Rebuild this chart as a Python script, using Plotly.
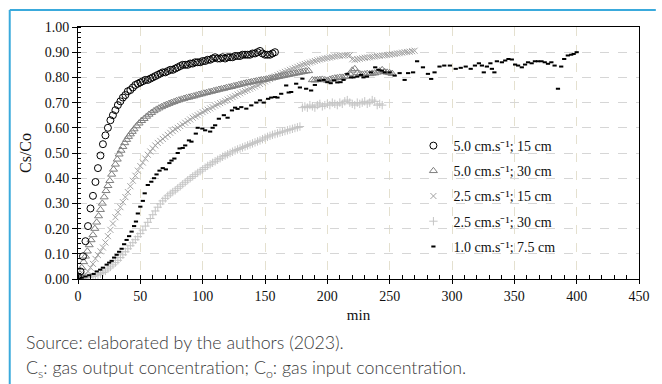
import plotly.graph_objects as go

# ---------------- data ----------------
t_c515 = [0, 2, 4, 6, 8, 10, 12, 14, 16, 18, 20, 22, 24, 26, 28, 30, 32, 34, 36, 38,
          40, 42, 44, 46, 48, 50, 52, 54, 56, 58, 60, 62, 64, 66, 68, 70, 72, 74, 76, 78,
          80, 82, 84, 86, 88, 90, 92, 94, 96, 98, 100, 102, 104, 106, 108, 110, 112, 114, 116, 118,
          120, 122, 124, 126, 128, 130, 132, 134, 136, 138, 140, 142, 144, 146, 148, 150, 152, 154, 156, 158]
v_c515 = [0.01, 0.03, 0.09, 0.15, 0.21, 0.28, 0.33, 0.385, 0.44, 0.49, 0.535, 0.57, 0.60, 0.63, 0.65, 0.67, 0.69, 0.705, 0.72, 0.73,
          0.745, 0.75, 0.76, 0.77, 0.775, 0.78, 0.785, 0.79, 0.79, 0.795, 0.80, 0.805, 0.81, 0.815, 0.82, 0.82, 0.825, 0.83, 0.83, 0.835,
          0.84, 0.845, 0.85, 0.85, 0.85, 0.855, 0.855, 0.86, 0.86, 0.86, 0.865, 0.865, 0.87, 0.87, 0.875, 0.88, 0.875, 0.875, 0.88, 0.875,
          0.88, 0.88, 0.88, 0.885, 0.885, 0.885, 0.89, 0.89, 0.89, 0.89, 0.895, 0.895, 0.90, 0.905, 0.895, 0.89, 0.89, 0.89, 0.895, 0.90]

t_c530 = [0, 1.5, 3, 4.5, 6, 7.5, 9, 10.5, 12, 13.5, 15, 16.5, 18, 19.5, 21, 22.5, 24, 25.5, 27, 28.5,
          30, 31.5, 33, 34.5, 36, 37.5, 39, 40.5, 42, 43.5, 45,
          47, 49, 51, 53, 55, 57, 59, 61, 63, 65, 67, 69, 71, 73, 75, 77, 79, 81, 83,
          85, 87, 89, 91, 93, 95, 97, 99, 101, 103, 105, 107, 109, 111, 113, 115, 117, 119, 121, 123,
          125, 127, 129, 131, 133, 135, 137, 139, 141, 143, 145, 147, 149, 151, 153, 155, 157, 159, 161, 163,
          165, 167, 169, 171, 173, 175, 177, 179, 181, 183, 185,
          188, 190, 192, 194, 196, 198, 200, 202, 204, 206, 208, 210, 212, 214, 216, 218, 220, 222, 224, 226,
          228, 230, 232, 234, 236, 238, 240, 242, 244, 246, 248, 250, 252]
v_c530 = [0.005, 0.02, 0.045, 0.068, 0.09, 0.11, 0.135, 0.155, 0.175, 0.20, 0.225, 0.25, 0.275, 0.30, 0.325, 0.35, 0.37, 0.39, 0.415, 0.435,
          0.455, 0.475, 0.495, 0.51, 0.525, 0.54, 0.553, 0.565, 0.575, 0.585, 0.595,
          0.607, 0.618, 0.628, 0.636, 0.645, 0.653, 0.66, 0.667, 0.673, 0.678, 0.683, 0.688, 0.692, 0.696, 0.70, 0.703, 0.707, 0.71, 0.713,
          0.716, 0.719, 0.721, 0.724, 0.726, 0.729, 0.732, 0.734, 0.737, 0.739, 0.742, 0.744, 0.747, 0.749, 0.752, 0.754, 0.756, 0.759, 0.761, 0.763,
          0.766, 0.768, 0.771, 0.773, 0.776, 0.778, 0.78, 0.782, 0.784, 0.786, 0.788, 0.79, 0.791, 0.793, 0.795, 0.797, 0.799, 0.801, 0.803, 0.805,
          0.807, 0.809, 0.811, 0.813, 0.815, 0.817, 0.819, 0.821, 0.823, 0.825, 0.826,
          0.79, 0.789, 0.79, 0.791, 0.792, 0.79, 0.788, 0.792, 0.795, 0.797, 0.798, 0.80, 0.80, 0.803, 0.805, 0.815, 0.828, 0.834, 0.818, 0.814,
          0.812, 0.813, 0.815, 0.814, 0.816, 0.817, 0.82, 0.825, 0.83, 0.822, 0.82, 0.818, 0.815]

t_c2515 = [0, 2, 4, 6, 8, 10, 12, 14, 16, 18, 20, 22, 24, 26, 28, 30, 32, 34, 36, 38,
           40, 42, 44, 46, 48, 50, 52, 54, 56, 58, 60, 62, 64, 66, 68, 70, 72, 74, 76, 78,
           80, 82, 84, 86, 88, 90, 92, 94, 96, 98, 100, 102, 104, 106, 108, 110, 112, 114, 116, 118,
           120, 122, 124, 126, 128, 130, 132, 134, 136, 138, 140, 142, 144, 146, 148, 150, 152, 154, 156, 158,
           160, 162, 164, 166, 168, 170, 172, 174, 176, 178, 180, 182, 184, 186, 188, 190, 192, 194, 196, 198,
           200, 202, 204, 206, 208, 210, 212, 214, 216, 218, 220, 222, 224, 226, 228, 230, 232, 234, 236, 238,
           240, 242, 244, 246, 248, 250, 252, 254, 256, 258, 260, 262, 264, 266, 268, 270]
v_c2515 = [0.0, 0.005, 0.01, 0.02, 0.03, 0.045, 0.06, 0.08, 0.095, 0.11, 0.125, 0.145, 0.17, 0.195, 0.22, 0.245, 0.265, 0.285, 0.305, 0.325,
           0.345, 0.368, 0.39, 0.41, 0.43, 0.448, 0.462, 0.478, 0.493, 0.506, 0.518, 0.53, 0.54, 0.548, 0.556, 0.564, 0.572, 0.58, 0.587, 0.594,
           0.60, 0.607, 0.613, 0.62, 0.627, 0.633, 0.64, 0.645, 0.65, 0.656, 0.662, 0.667, 0.672, 0.677, 0.682, 0.688, 0.693, 0.698, 0.702, 0.707,
           0.712, 0.717, 0.722, 0.727, 0.732, 0.737, 0.742, 0.746, 0.75, 0.755, 0.76, 0.764, 0.769, 0.774, 0.779, 0.784, 0.789, 0.794, 0.799, 0.804,
           0.809, 0.814, 0.818, 0.822, 0.826, 0.83, 0.834, 0.838, 0.842, 0.846, 0.85, 0.853, 0.856, 0.859, 0.862, 0.865, 0.868, 0.871, 0.873, 0.875,
           0.877, 0.879, 0.881, 0.883, 0.885, 0.886, 0.887, 0.888, 0.889, 0.888, 0.872, 0.87, 0.872, 0.874, 0.876, 0.878, 0.879, 0.88, 0.882, 0.883,
           0.885, 0.886, 0.887, 0.888, 0.889, 0.89, 0.892, 0.893, 0.895, 0.896, 0.898, 0.90, 0.901, 0.902, 0.904, 0.906]

t_c2530 = [0, 2, 4, 6, 8, 10, 12, 14, 16, 18, 20, 22, 24, 26, 28, 30, 32, 34, 36, 38,
           40, 42, 44, 46, 48, 50, 52, 54, 56, 58, 60, 62, 64, 66, 68, 70, 72, 74, 76, 78,
           80, 82, 84, 86, 88, 90, 92, 94, 96, 98, 100, 102, 104, 106, 108, 110, 112, 114, 116, 118,
           120, 122, 124, 126, 128, 130, 132, 134, 136, 138, 140, 142, 144, 146, 148, 150, 152, 154, 156, 158,
           160, 162, 164, 166, 168, 170, 172, 174, 176, 178,
           180, 182, 184, 186, 188, 190, 192, 194, 196, 198, 200, 202, 204, 206, 208, 210, 212, 214, 216, 218,
           220, 222, 224, 226, 228, 230, 232, 234, 236, 238, 240, 242, 244]
v_c2530 = [0.0, 0.0, 0.002, 0.004, 0.006, 0.008, 0.01, 0.013, 0.017, 0.021, 0.026, 0.032, 0.04, 0.048, 0.056, 0.065, 0.074, 0.085, 0.096, 0.108,
           0.12, 0.132, 0.144, 0.156, 0.168, 0.18, 0.194, 0.21, 0.225, 0.24, 0.255, 0.27, 0.285, 0.298, 0.31, 0.32, 0.33, 0.338, 0.345, 0.352,
           0.36, 0.368, 0.376, 0.384, 0.392, 0.40, 0.407, 0.414, 0.421, 0.428, 0.435, 0.442, 0.449, 0.455, 0.461, 0.467, 0.473, 0.479, 0.485, 0.49,
           0.495, 0.50, 0.505, 0.51, 0.514, 0.518, 0.522, 0.526, 0.53, 0.534, 0.538, 0.542, 0.546, 0.55, 0.555, 0.56, 0.564, 0.568, 0.572, 0.575,
           0.578, 0.581, 0.584, 0.587, 0.59, 0.593, 0.596, 0.599, 0.602, 0.605,
           0.68, 0.685, 0.68, 0.69, 0.685, 0.68, 0.69, 0.695, 0.685, 0.69, 0.695, 0.69, 0.70, 0.695, 0.69, 0.70, 0.695, 0.705, 0.71, 0.70,
           0.695, 0.69, 0.70, 0.695, 0.70, 0.705, 0.695, 0.70, 0.71, 0.705, 0.69, 0.695, 0.69]

t_c1075 = [0, 3, 6, 9, 12.5, 15, 17.8, 20, 23, 25, 27, 29, 31, 33, 35, 37, 39, 41, 43, 45,
           46.5, 48, 50, 52, 53.5, 56, 58.8, 61, 63, 65.4, 68, 70.5, 73.3, 75, 77.3, 80, 81.5, 84, 86, 89,
           91, 94.5, 96, 99.7, 102, 106, 108, 110, 113, 117, 120, 123.5, 126, 128, 131, 135, 139, 143, 146, 149,
           152.5, 155, 158, 160, 163, 167, 169, 171, 175, 178, 180, 183, 187, 190, 193.5, 197, 200, 202.7, 205.4, 208,
           210.6, 213, 216, 219, 221, 224, 227, 229, 231.8, 235, 238.4, 241, 243.7, 246, 250, 254, 258, 262, 264.8, 268.8,
           272, 276.7, 280.7, 283.3, 286, 290, 293.8, 298.3, 303, 307, 311, 315, 318.4, 321.6, 324, 325.5, 328, 330.8, 332, 334,
           336, 340, 342.7, 345.3, 348, 350.6, 353, 356, 358.6, 361, 363.9, 366.5, 369, 371.8, 374.4, 377, 379.7, 382.3, 385, 387.6,
           390, 392.9, 395.6, 397.6, 400]
v_c1075 = [0.0, 0.005, 0.01, 0.015, 0.02, 0.03, 0.037, 0.045, 0.057, 0.065, 0.072, 0.085, 0.096, 0.108, 0.12, 0.138, 0.155, 0.17, 0.188, 0.21,
           0.228, 0.26, 0.287, 0.31, 0.34, 0.373, 0.386, 0.40, 0.415, 0.43, 0.44, 0.435, 0.46, 0.47, 0.478, 0.50, 0.518, 0.52, 0.53, 0.55,
           0.545, 0.577, 0.60, 0.597, 0.59, 0.585, 0.60, 0.61, 0.636, 0.65, 0.64, 0.669, 0.68, 0.675, 0.682, 0.676, 0.689, 0.70, 0.709, 0.70,
           0.715, 0.72, 0.722, 0.72, 0.735, 0.768, 0.74, 0.742, 0.775, 0.76, 0.795, 0.755, 0.748, 0.77, 0.788, 0.79, 0.781, 0.777, 0.788, 0.78,
           0.781, 0.79, 0.814, 0.80, 0.80, 0.803, 0.81, 0.80, 0.803, 0.82, 0.84, 0.83, 0.827, 0.82, 0.82, 0.807, 0.817, 0.79, 0.817, 0.82,
           0.864, 0.84, 0.814, 0.794, 0.82, 0.843, 0.847, 0.847, 0.834, 0.838, 0.843, 0.834, 0.847, 0.856, 0.847, 0.82, 0.843, 0.856, 0.834, 0.82,
           0.864, 0.86, 0.867, 0.873, 0.871, 0.851, 0.847, 0.84, 0.851, 0.86, 0.856, 0.864, 0.864, 0.864, 0.86, 0.854, 0.86, 0.847, 0.755, 0.843,
           0.873, 0.887, 0.89, 0.893, 0.90]

names = ["5.0 cm.s\u207b\u00b9; 15 cm", "5.0 cm.s\u207b\u00b9; 30 cm", "2.5 cm.s\u207b\u00b9; 15 cm",
         "2.5 cm.s\u207b\u00b9; 30 cm", "1.0 cm.s\u207b\u00b9; 7.5 cm"]
x_ticks = [0, 50, 100, 150, 200, 250, 300, 350, 400, 450]
y_ticks = [0.0, 0.1, 0.2, 0.3, 0.4, 0.5, 0.6, 0.7, 0.8, 0.9, 1.0]

SERIF = "Liberation Serif"
SANS = "Lato"

fig = go.Figure()
fig.add_trace(go.Scatter(x=t_c2530, y=v_c2530, mode="markers", name=names[3], legendrank=4, legendgroup="d",
                         marker=dict(symbol="cross-thin-open", size=6, color="#c4c4c4", line=dict(width=1, color="#c4c4c4"))))
fig.add_trace(go.Scatter(x=t_c2515, y=v_c2515, mode="markers", name=names[2], legendrank=3, legendgroup="c",
                         marker=dict(symbol="x-thin-open", size=6, color="#a2a2a2", line=dict(width=1, color="#a2a2a2"))))
fig.add_trace(go.Scatter(x=t_c530, y=v_c530, mode="markers", name=names[1], legendrank=2, legendgroup="b",
                         marker=dict(symbol="triangle-up-open", size=7, color="#7f7f7f", line=dict(width=1, color="#7f7f7f"))))
fig.add_trace(go.Scatter(x=t_c1075, y=v_c1075, mode="markers", name=names[4], legendrank=5, legendgroup="e",
                         marker=dict(symbol="line-ew-open", size=3, color="#000000", line=dict(width=2, color="#000000"))))
fig.add_trace(go.Scatter(x=t_c515, y=v_c515, mode="markers", name=names[0], legendrank=1, legendgroup="a",
                         marker=dict(symbol="circle-open", size=7, color="#000000", line=dict(width=1, color="#000000"))))

L, R, T, B = 78, 17, 27, 105
W, H = 662, 384
pw, ph = W - L - R, H - T - B

def px_to_paper_x(px):
    return (px - L) / pw

def px_to_paper_y(py):
    return (H - B - py) / ph

fig.update_layout(
    width=W, height=H,
    margin=dict(l=L, r=R, t=T, b=B),
    paper_bgcolor="white", plot_bgcolor="white",
    showlegend=True,
    legend=dict(x=px_to_paper_x(417), y=px_to_paper_y(130), xanchor="left", yanchor="top",
                bgcolor="rgba(0,0,0,0)", font=dict(family=SERIF, size=14, color="#111"),
                traceorder="grouped", tracegroupgap=4, itemwidth=30),
    xaxis=dict(range=[0, 450], tickvals=x_ticks, ticktext=[str(v) for v in x_ticks],
               showline=True, linecolor="#000", linewidth=1, mirror=True,
               ticks="outside", ticklen=4, tickcolor="#000",
               minor=dict(dtick=10, ticks="inside", ticklen=4, tickcolor="#000", showgrid=False),
               showgrid=True, gridcolor="#e4e0cf", griddash="dash", gridwidth=1,
               zeroline=False,
               tickfont=dict(family=SERIF, size=14, color="#111"),
               title=dict(text="min", font=dict(family=SERIF, size=15, color="#111"), standoff=6)),
    yaxis=dict(range=[0, 1.0], tickvals=y_ticks, ticktext=["%.2f" % v for v in y_ticks],
               showline=True, linecolor="#000", linewidth=1, mirror=True,
               ticks="outside", ticklen=5, tickcolor="#000",
               minor=dict(dtick=0.02, ticks="inside", ticklen=3, tickcolor="#000", showgrid=False),
               showgrid=True, gridcolor="#d6d6d6", griddash="dash", gridwidth=1,
               zeroline=False,
               tickfont=dict(family=SERIF, size=14, color="#111"),
               title=dict(text="Cs/Co", font=dict(family=SERIF, size=16, color="#111"), standoff=9)),
    shapes=[
        dict(type="line", xref="paper", yref="paper", x0=px_to_paper_x(9), x1=px_to_paper_x(662),
             y0=px_to_paper_y(10), y1=px_to_paper_y(10), line=dict(color="#3aaadc", width=2)),
        dict(type="line", xref="paper", yref="paper", x0=px_to_paper_x(9), x1=px_to_paper_x(9),
             y0=px_to_paper_y(10), y1=px_to_paper_y(384), line=dict(color="#3aaadc", width=2)),
    ],
    annotations=[
        dict(text="Source: elaborated by the authors (2023).", xref="paper", yref="paper",
             x=px_to_paper_x(23), y=px_to_paper_y(342), xanchor="left", yanchor="middle", showarrow=False,
             font=dict(family=SANS, size=17.8, color="#3a3a3a", weight=300)),
        dict(text="C<sub>s</sub>: gas output concentration; C<sub>o</sub>: gas input concentration.",
             xref="paper", yref="paper",
             x=px_to_paper_x(23), y=px_to_paper_y(368), xanchor="left", yanchor="middle", showarrow=False,
             font=dict(family=SANS, size=17.8, color="#3a3a3a", weight=300)),
    ],
)

fig.write_html("out.html")
